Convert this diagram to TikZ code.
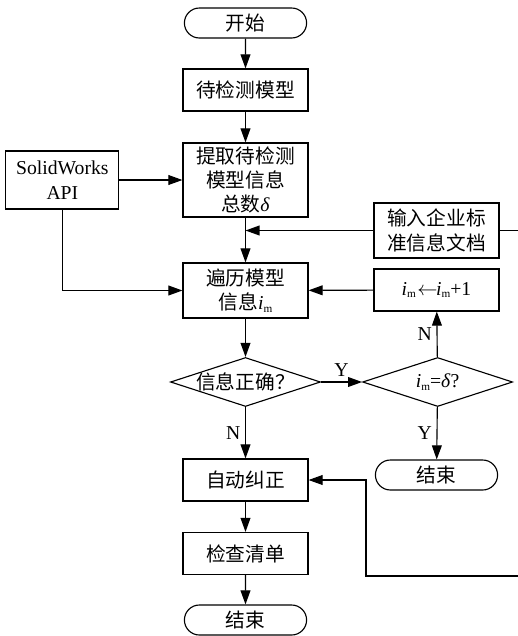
\documentclass[tikz,border=0pt]{standalone}
\usepackage{fontspec}
\setmainfont{Liberation Serif}
\newfontfamily\cjk{Noto Sans CJK SC}
\usetikzlibrary{positioning,shapes.geometric,shapes.misc,arrows.meta,calc}
\def\BoxWidth{3.125cm}
\def\BoxHeight{1.05cm}
\def\DiaWidth{3.75cm}
\def\DiaHeight{1.225cm}
\def\Lat#1{{\rmfamily #1}}
\def\im{\Lat{\textit{i}\raisebox{-2pt}{\fontsize{8}{8}\selectfont m}}}
\tikzset{
  base/.style={draw, line width=0.8pt, align=center, inner sep=1pt,
    font=\cjk\fontsize{14}{17.4}\selectfont},
  term/.style={base, rounded rectangle, minimum width=\BoxWidth, minimum height=0.75cm},
  proc/.style={base, rectangle, minimum width=\BoxWidth, minimum height=\BoxHeight},
  decide/.style={base, diamond, aspect=3.06, inner xsep=-0.5cm, inner ysep=0pt,
    minimum width=\DiaWidth, minimum height=\DiaHeight},
  flow/.style={line width=0.8pt, -{Triangle[length=10pt,width=7pt]}},
  lbl/.style={font=\rmfamily\fontsize{14}{17}\selectfont}
}

\begin{document}
\begin{tikzpicture}
  \useasboundingbox (0,0) rectangle (12.925,-15.9);
  % main column
  \node[term] (start) at (6.1375,-0.575) {开始};
  \node[proc] (model) at (6.1375,-2.25) {待检测模型};
  \node[proc, minimum height=1.85cm] (extract) at (6.1375,-4.5)
    {提取待检测\\模型信息\\总数\Lat{\textit{δ}}};
  \node[proc, minimum height=1.375cm] (traverse) at (6.1375,-7.2625)
    {遍历模型\\信息\im};
  \node[decide] (check) at (6.1375,-9.55) {信息正确？};
  \node[proc] (fix) at (6.1375,-12.0) {自动纠正};
  \node[proc] (list) at (6.1375,-13.8375) {检查清单};
  \node[term] (stop) at (6.1375,-15.5) {结束};
  % side nodes
  \node[proc, left=1.575cm of extract, minimum width=2.825cm, minimum height=1.45cm,
    font=\rmfamily\fontsize{14}{17.7}\selectfont] (api) {SolidWorks\\API};
  \node[proc] (inc) at (10.9125,-7.25)
    {\im\Lat{\kern1pt$\leftarrow$\kern-1pt}\im\Lat{+1}};
  \node[proc, minimum height=1.375cm] (input) at (10.9125,-5.7625)
    {输入企业标\\准信息文档};
  \node[decide, right=1.025cm of check] (last) {\im\Lat{=\textit{δ}?}};
  \node[term] (stopr) at (10.9125,-11.875) {结束};
  \coordinate (bend) at (9.15,-14.4);

  % connectors
  \draw[flow] (start) -- (model);
  \draw[flow] (model) -- (extract);
  \draw[flow] (extract) -- (traverse);
  \draw[flow] (traverse) -- (check);
  \draw[flow] (check) -- node[lbl, left] {N} (fix);
  \draw[flow] (fix) -- (list);
  \draw[flow] (list) -- (stop);
  \draw[flow] (api) -- (extract);
  \draw[flow] (api.south) |- (traverse.west);
  \draw[flow] (input.west) -- (input.west -| extract.south);
  \draw[flow] (inc) -- (traverse);
  \draw[flow] (check) -- node[lbl, above] {Y} (last);
  \draw[flow] (last) -- node[lbl, left] {N} (inc);
  \draw[flow] (last) -- node[lbl, left] {Y} (stopr);
  \draw[flow] (input.east) -- ++(0.6,0) |- (bend) |- (fix.east);
\end{tikzpicture}
\end{document}
